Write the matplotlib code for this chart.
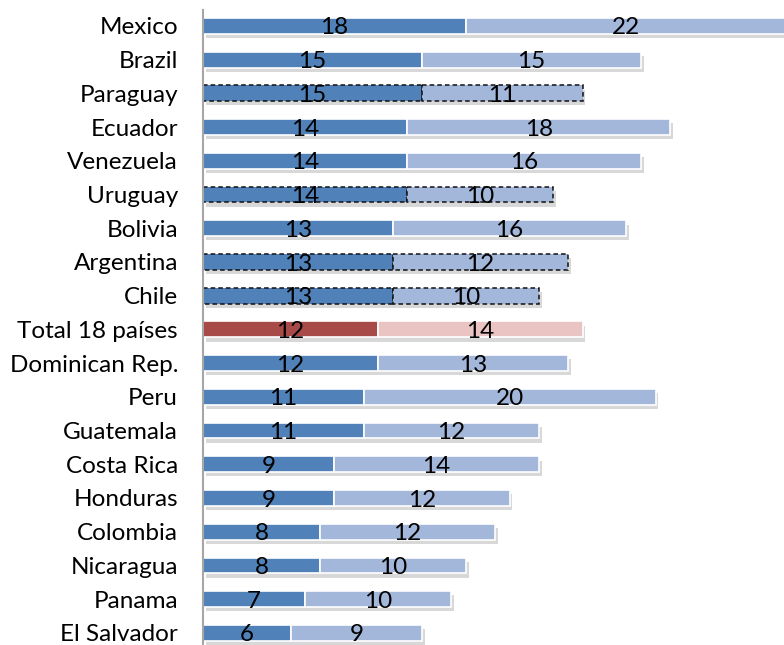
import matplotlib.pyplot as plt
import matplotlib.patheffects as pe

countries = ["Mexico", "Brazil", "Paraguay", "Ecuador", "Venezuela", "Uruguay",
             "Bolivia", "Argentina", "Chile", "Total 18 países", "Dominican Rep.",
             "Peru", "Guatemala", "Costa Rica", "Honduras", "Colombia",
             "Nicaragua", "Panama", "El Salvador"]
first = [18, 15, 15, 14, 14, 14, 13, 13, 13, 12, 12, 11, 11, 9, 9, 8, 8, 7, 6]
second = [22, 15, 11, 18, 16, 10, 16, 12, 10, 14, 13, 20, 12, 14, 12, 12, 10, 10, 9]
dashed = ["Paraguay", "Uruguay", "Argentina", "Chile"]
total_row = "Total 18 países"

plt.rcParams['font.family'] = ['Lato', 'DejaVu Sans']

fig = plt.figure(figsize=(7.84, 6.45), dpi=100)
ax = fig.add_axes([203 / 784, 0, 1 - 203 / 784, 1])

shadow = [pe.SimplePatchShadow(offset=(2, -3), shadow_rgbFace="#909090", alpha=0.35),
          pe.Normal()]

for i, (c, a, b) in enumerate(zip(countries, first, second)):
    if c == total_row:
        col1, col2 = "#A84B48", "#E9C4C3"
    else:
        col1, col2 = "#5082B9", "#A3B7DA"
    if c in dashed:
        ec, ls, lw = "#111111", (0, (3, 2)), 1.1
    else:
        ec, ls, lw = "white", "-", 1.2
    bars1 = ax.barh(i, a, height=0.47, color=col1, edgecolor=ec, linestyle=ls, linewidth=lw)
    bars2 = ax.barh(i, b, left=a, height=0.47, color=col2, edgecolor=ec, linestyle=ls, linewidth=lw)
    for bar in list(bars1) + list(bars2):
        bar.set_path_effects(shadow)
    ax.text(a / 2, i + 0.06, str(a), ha="center", va="center", fontsize=17.5, color="black")
    ax.text(a + b / 2, i + 0.06, str(b), ha="center", va="center", fontsize=17.5, color="black")

ax.set_yticks(range(len(countries)))
ax.set_yticklabels(countries, fontsize=17.5)
ax.set_ylim(18.36, -0.77)
ax.set_xlim(0, 39.8)
ax.set_xticks([])
ax.tick_params(axis="y", length=0, pad=18)
for s in ["top", "right", "bottom"]:
    ax.spines[s].set_visible(False)
ax.spines["left"].set_color("#A6A6A6")
ax.spines["left"].set_linewidth(1.5)
ax.spines["left"].set_bounds(-0.47, 18.36)

fig.savefig("out.png", dpi=100)
